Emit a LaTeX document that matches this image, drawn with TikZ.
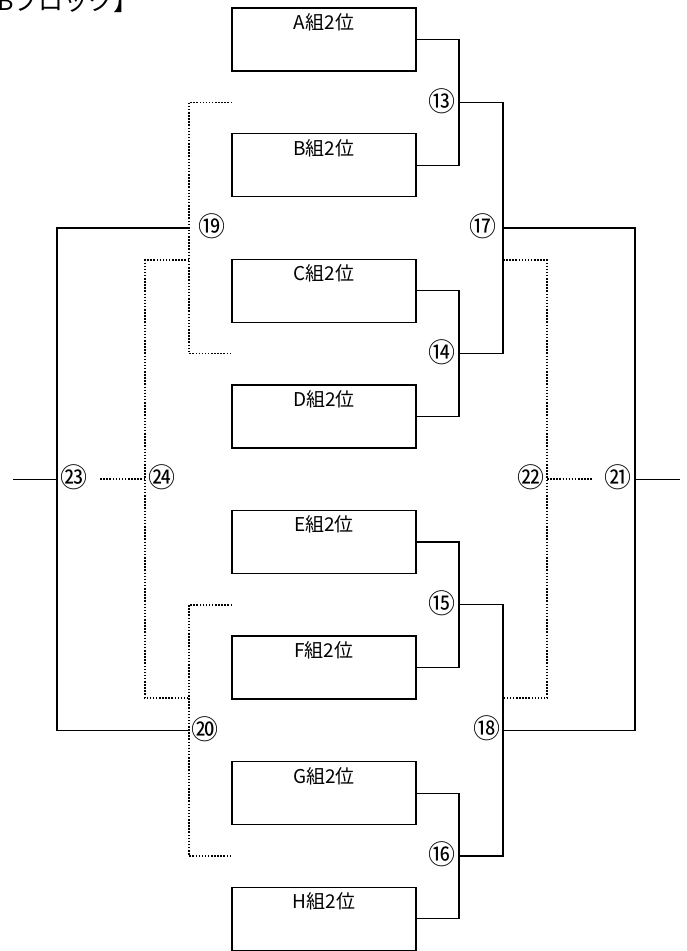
\documentclass[tikz,border=0pt]{standalone}
\usepackage{fontspec}
\setmainfont{Noto Sans CJK JP}

\tikzset{
	teambox/.style={draw=black, line width=1.4pt, minimum width=184pt, minimum height=63pt, inner sep=0pt},
	teamname/.style={anchor=north, inner sep=6pt, font=\fontsize{19}{19}\selectfont},
	matchno/.style={inner sep=0pt, font=\fontsize{27}{27}\selectfont},
	wire/.style={draw=black, line width=1.2pt},
	dotwire/.style={draw=black, line width=1.6pt, dash pattern=on 1.5pt off 1.6pt}
}

\begin{document}
\begin{tikzpicture}[x=1pt, y=-1pt]

	\def\pitch{125.6}		% vertical distance between two boxes
	\def\xone{459}			% first round brackets
	\def\xtwo{503}			% second round brackets
	\def\xfin{635}			% final bracket (right)
	\def\xsemi{189}			% losers bracket (left)
	\def\xlfin{57}			% final bracket (left)

	\useasboundingbox (0,0) rectangle (687,951);

	% block title, cut by the page
	\node[anchor=base west, inner sep=0pt, font=\fontsize{25}{25}\selectfont] (title) at (-28,10) {【Bブロック】};

	\foreach \g [count=\i from 0] in {A,B,C,D,E,F,G,H}{% draw the boxes
		\node[teambox] (box\g) at (324, {39.5+\i*\pitch}) {};
		\node[teamname] (name\g) at (box\g.north) {\g{}組2位};
	}

	\foreach \a/\b/\n/\lab [count=\i from 0] in {A/B/13/⑬, C/D/14/⑭, E/F/15/⑮, G/H/16/⑯}{% first round
		\coordinate (j\n) at (\xone, {102.3+\i*2*\pitch});
		\coordinate (s\n) at (232, {102.3+\i*2*\pitch});
		\draw[wire] (box\a.east) -| (j\n) |- (box\b.east);
		\node[matchno] (m\n) at (442, {101+\i*2*\pitch}) {\lab};
	}

	% second round
	\coordinate (j17) at (\xtwo, 227.9);
	\coordinate (j18) at (\xtwo, 730.3);
	\draw[wire] (j13) -| (j17) |- (j14);
	\draw[wire] (j15) -| (j18) |- (j16);
	\node[matchno] (m17) at (483,226) {⑰};
	\node[matchno] (m18) at (487,728) {⑱};

	% final (right)
	\coordinate (j21) at (\xfin, 479.1);
	\coordinate (endR) at (680, 479.1);
	\draw[wire] (j17) -| (j21) |- (j18);
	\draw[wire] (j21) -- (endR);
	\node[matchno] (m21) at (618,477) {㉑};

	% third place (right), dotted
	\coordinate (d17) at (\xtwo, 260);
	\coordinate (d18) at (\xtwo, 698);
	\coordinate (j22) at (547, 479.1);
	\coordinate (t22) at (592, 479.1);
	\draw[dotwire] (d17) -| (j22) |- (d18);
	\draw[dotwire] (j22) -- (t22);
	\node[matchno] (m22) at (531,477) {㉒};

	% losers of the first round (left), dotted
	\coordinate (j19) at (\xsemi, 227.9);
	\coordinate (j20) at (\xsemi, 730.3);
	\draw[dotwire] (s13) -| (j19) |- (s14);
	\draw[dotwire] (s15) -| (j20) |- (s16);
	\node[matchno] (m19) at (212,226) {⑲};
	\node[matchno] (m20) at (205,729) {⑳};

	% final (left)
	\coordinate (j23) at (\xlfin, 479.1);
	\coordinate (endL) at (13, 479.1);
	\draw[wire] (j19) -| (j23) |- (j20);
	\draw[wire] (j23) -- (endL);
	\node[matchno] (m23) at (74,477) {㉓};

	% third place (left), dotted
	\coordinate (d19) at (\xsemi, 260);
	\coordinate (d20) at (\xsemi, 698);
	\coordinate (j24) at (145, 479.1);
	\coordinate (t24) at (100, 479.1);
	\draw[dotwire] (d19) -| (j24) |- (d20);
	\draw[dotwire] (j24) -- (t24);
	\node[matchno] (m24) at (162,477) {㉔};

\end{tikzpicture}
\end{document}
